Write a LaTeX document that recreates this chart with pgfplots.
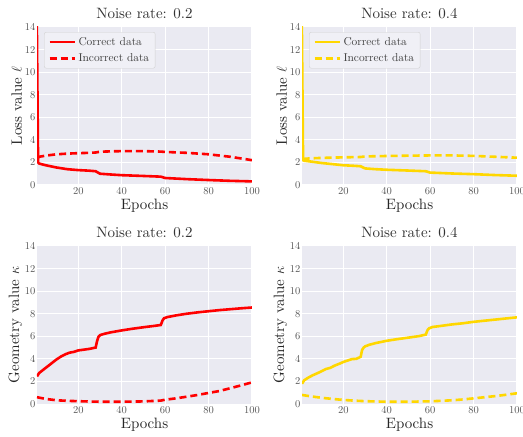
\documentclass[border=0pt]{standalone}
\usepackage{fontspec}
\setmainfont{lmroman10-regular.otf}[BoldFont=lmroman10-bold.otf, ItalicFont=lmroman10-italic.otf]
\usepackage{pgfplots}
\pgfplotsset{compat=1.18}
\definecolor{sbbg}{HTML}{EAEAF2}
\definecolor{tickgray}{HTML}{555555}
\definecolor{gold}{HTML}{FFD700}
\pgfplotsset{
  sb/.style={
    scale only axis, width=215pt, height=158pt,
    xmin=1, xmax=100, ymin=0, ymax=14,
    xtick={20,40,60,80,100}, ytick={0,2,4,6,8,10,12,14},
    axis background/.style={fill=sbbg},
    axis line style={draw=none},
    grid=major, major grid style={white, line width=1pt},
    tick style={draw=none},
    /pgf/number format/assume math mode=true,
    tick label style={font=\fontsize{10.5}{12}\selectfont, text=tickgray},
    xticklabel style={yshift=1pt},
    yticklabel style={xshift=2pt},
    title style={font=\fontsize{15}{17}\selectfont, text=black!80, yshift=-1pt},
    label style={font=\fontsize{15}{17}\selectfont, text=black!85},
    xlabel style={yshift=3pt},
    ylabel style={yshift=-4pt},
    xlabel={Epochs},
    clip=true,
    legend style={at={(0.033,0.968)}, anchor=north west, fill=sbbg!70!white, draw=black!18,
      rounded corners=2pt, font=\fontsize{11.4}{13}\selectfont, text=black!75,
      row sep=3pt, inner xsep=4pt, inner ysep=3pt},
    legend cell align=left,
    legend image code/.code={\draw[#1] (0cm,0cm) -- (0.9cm,0cm);},
  },
  cor/.style={line width=2.6pt},
  inc/.style={line width=2.6pt, dash pattern=on 7pt off 4pt},
}
\begin{document}
\begin{tikzpicture}[x=1pt,y=1pt]
\path[use as bounding box] (0,0) rectangle (523,437);

\begin{axis}[sb, at={(37pt,252pt)}, anchor=south west,
  title={Noise rate: 0.2}, ylabel={Loss value $\ell$}]
\addplot[cor, red] coordinates {(0.85,16) (1.5,2.0) (2,1.9) (5,1.75) (10,1.55) (15,1.4) (20,1.32) (25,1.27) (28,1.22) (30,1.0) (35,0.93) (40,0.87) (50,0.8) (58,0.74) (60,0.62) (70,0.52) (80,0.44) (90,0.37) (100,0.32)};
\addlegendentry{Correct data}
\addplot[inc, red] coordinates {(1.3,2.4) (2,2.5) (5,2.6) (10,2.72) (15,2.78) (20,2.82) (25,2.85) (28,2.88) (30,2.95) (35,2.98) (40,3.0) (50,3.0) (58,2.96) (60,2.93) (70,2.85) (80,2.72) (90,2.5) (100,2.2)};
\addlegendentry{Incorrect data}
\end{axis}

\begin{axis}[sb, at={(302pt,252pt)}, anchor=south west,
  title={Noise rate: 0.4}, ylabel={Loss value $\ell$}]
\addplot[cor, gold] coordinates {(0.85,16) (1.5,2.2) (2,2.15) (5,2.08) (10,1.95) (15,1.85) (20,1.75) (25,1.7) (28,1.66) (30,1.47) (35,1.4) (40,1.35) (50,1.28) (58,1.22) (60,1.1) (70,1.02) (80,0.96) (90,0.88) (100,0.82)};
\addlegendentry{Correct data}
\addplot[inc, gold] coordinates {(1.3,2.3) (2,2.32) (5,2.36) (10,2.4) (20,2.45) (28,2.48) (30,2.53) (40,2.57) (50,2.6) (60,2.62) (70,2.62) (80,2.58) (90,2.5) (100,2.42)};
\addlegendentry{Incorrect data}
\end{axis}

\begin{axis}[sb, at={(37pt,33pt)}, anchor=south west,
  title={Noise rate: 0.2}, ylabel={Geometry value $\kappa$}]
\addplot[cor, red] coordinates {(1,2.45) (2,2.75) (4,3.05) (6,3.35) (8,3.65) (10,3.95) (12,4.2) (14,4.4) (16,4.55) (18,4.62) (20,4.75) (22,4.8) (25,4.88) (28,5.0) (28.7,5.6) (29.3,5.95) (30,6.1) (32,6.22) (35,6.35) (40,6.52) (45,6.67) (50,6.8) (55,6.92) (58,7.0) (58.8,7.4) (59.5,7.6) (61,7.7) (65,7.85) (70,8.0) (75,8.12) (80,8.22) (85,8.32) (90,8.4) (95,8.48) (100,8.55)};
\addplot[inc, red] coordinates {(1,0.6) (5,0.45) (10,0.33) (15,0.28) (20,0.25) (25,0.22) (30,0.2) (40,0.2) (50,0.23) (58,0.3) (60,0.38) (65,0.5) (70,0.65) (75,0.8) (80,0.98) (85,1.15) (90,1.4) (95,1.65) (100,1.92)};
\end{axis}

\begin{axis}[sb, at={(302pt,33pt)}, anchor=south west,
  title={Noise rate: 0.4}, ylabel={Geometry value $\kappa$}]
\addplot[cor, gold] coordinates {(1,1.8) (2,2.1) (4,2.35) (6,2.55) (8,2.72) (10,2.9) (12,3.1) (14,3.2) (16,3.4) (18,3.55) (20,3.72) (22,3.85) (24,3.98) (26,4.0) (28,4.18) (28.7,4.8) (29.4,5.0) (30,5.1) (32,5.25) (35,5.4) (40,5.6) (45,5.75) (50,5.88) (55,6.02) (58,6.15) (58.8,6.55) (59.5,6.7) (61,6.82) (65,6.92) (70,7.05) (75,7.15) (80,7.28) (85,7.38) (90,7.48) (95,7.58) (100,7.68)};
\addplot[inc, gold] coordinates {(1,0.8) (5,0.68) (10,0.55) (15,0.45) (20,0.36) (25,0.3) (30,0.25) (40,0.2) (50,0.2) (60,0.24) (65,0.28) (70,0.33) (75,0.4) (80,0.5) (85,0.6) (90,0.7) (95,0.82) (100,0.95)};
\end{axis}
\end{tikzpicture}
\end{document}
